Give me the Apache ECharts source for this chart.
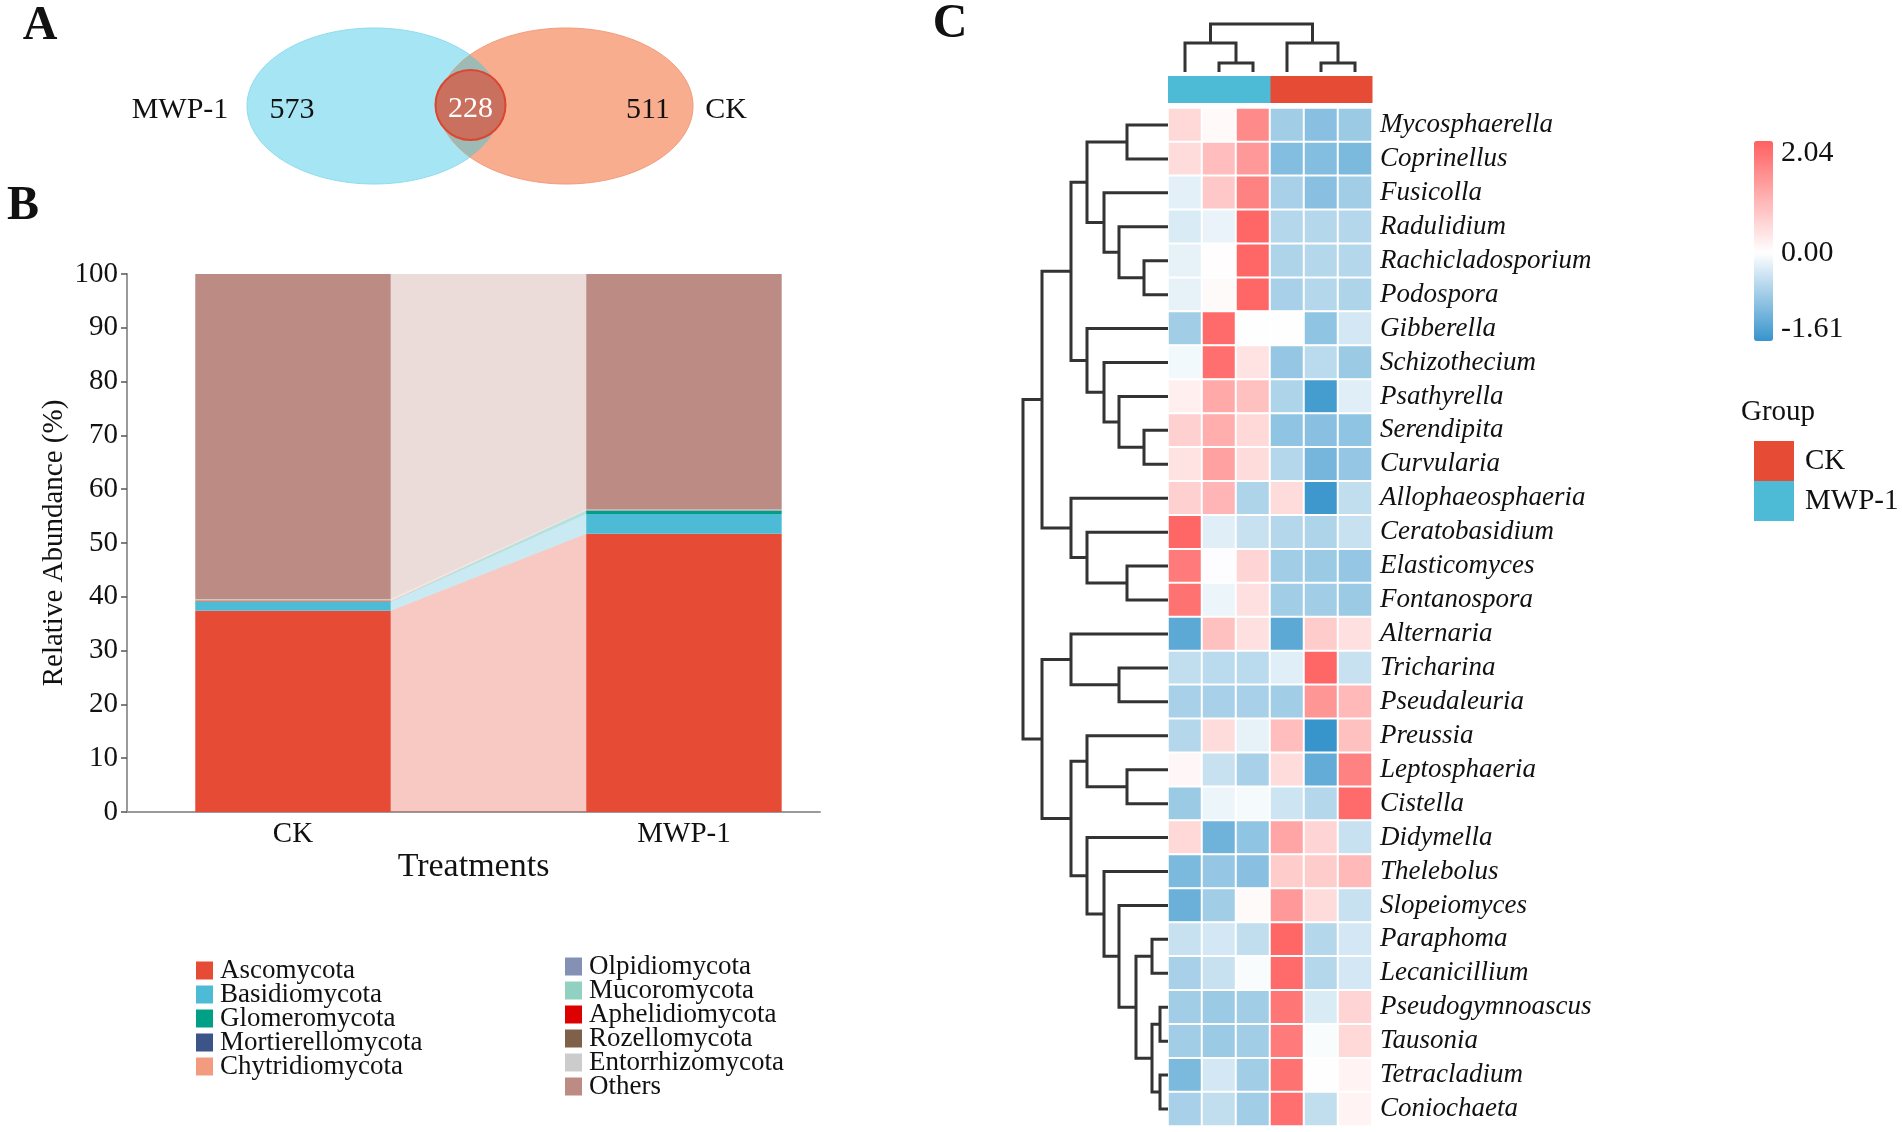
<!DOCTYPE html>
<html><head><meta charset="utf-8">
<script src="https://cdn.jsdelivr.net/npm/echarts@6/dist/echarts.min.js"></script>
<style>html,body{margin:0;padding:0;background:#fff;}#c{width:1902px;height:1132px;}</style>
</head><body><div id="c"></div>
<script>
// ---------- Panel A : Venn ----------
const vennSets = ['MWP-1', 'CK'];
const vennCounts = [573, 228, 511]; // MWP-1 only, shared, CK only

// ---------- Panel B : phylum composition ----------
const treatments = ['CK', 'MWP-1'];
const phyla = ['Ascomycota','Basidiomycota','Glomeromycota','Mortierellomycota','Chytridiomycota',
               'Olpidiomycota','Mucoromycota','Aphelidiomycota','Rozellomycota','Entorrhizomycota','Others'];
const abundCK   = [37.4, 1.65, 0.05, 0.05, 0.35, 0.02, 0.05, 0.01, 0.01, 0.01, 60.40];
const abundMWP1 = [51.7, 3.70, 0.60, 0.05, 0.05, 0.02, 0.10, 0.01, 0.01, 0.01, 43.75];
const phylumColors = ['#E64B35','#4DBBD5','#00A087','#3C5488','#F39B7F',
                      '#8491B4','#91D1C2','#DC0000','#7E6148','#CCCCCC','#BC8B84'];

// ---------- Panel C : heatmap ----------
const samples = ['MWP-1_1','MWP-1_2','MWP-1_3','CK_1','CK_2','CK_3'];
const sampleGroups = ['MWP-1','MWP-1','MWP-1','CK','CK','CK'];
const groupNames = ['CK','MWP-1'];
const groupColors = ['#E64B35','#4DBBD5'];
const genera = ['Mycosphaerella','Coprinellus','Fusicolla','Radulidium','Rachicladosporium','Podospora',
  'Gibberella','Schizothecium','Psathyrella','Serendipita','Curvularia','Allophaeosphaeria',
  'Ceratobasidium','Elasticomyces','Fontanospora','Alternaria','Tricharina','Pseudaleuria',
  'Preussia','Leptosphaeria','Cistella','Didymella','Thelebolus','Slopeiomyces','Paraphoma',
  'Lecanicillium','Pseudogymnoascus','Tausonia','Tetracladium','Coniochaeta'];
const zScores = [
 [ 0.50, 0.08, 1.50,-0.75,-0.95,-0.80],
 [ 0.45, 0.85, 1.30,-1.00,-1.00,-1.05],
 [-0.22, 0.70, 1.60,-0.70,-0.95,-0.75],
 [-0.30,-0.18, 1.95,-0.60,-0.60,-0.60],
 [-0.20, 0.02, 1.95,-0.65,-0.60,-0.60],
 [-0.20, 0.07, 1.95,-0.70,-0.60,-0.65],
 [-0.75, 1.90, 0.00, 0.00,-0.90,-0.35],
 [-0.10, 1.85, 0.35,-0.85,-0.55,-0.80],
 [ 0.20, 1.10, 0.80,-0.65,-1.50,-0.25],
 [ 0.60, 1.05, 0.50,-0.90,-0.95,-0.90],
 [ 0.35, 1.20, 0.45,-0.60,-1.10,-0.85],
 [ 0.60, 0.95,-0.65, 0.45,-1.55,-0.50],
 [ 1.95,-0.25,-0.45,-0.60,-0.65,-0.45],
 [ 1.70,-0.02, 0.55,-0.75,-0.80,-0.85],
 [ 1.80,-0.15, 0.40,-0.75,-0.75,-0.80],
 [-1.30, 0.80, 0.40,-1.30, 0.65, 0.40],
 [-0.50,-0.55,-0.55,-0.25, 1.95,-0.45],
 [-0.70,-0.70,-0.70,-0.75, 1.35, 0.90],
 [-0.60, 0.45,-0.20, 0.85,-1.60, 0.80],
 [ 0.10,-0.45,-0.70, 0.45,-1.25, 1.60],
 [-0.80,-0.15,-0.08,-0.40,-0.60, 1.90],
 [ 0.50,-1.15,-0.90, 1.15, 0.55,-0.45],
 [-1.05,-0.85,-0.95, 0.65, 0.65, 0.90],
 [-1.20,-0.75, 0.07, 1.30, 0.45,-0.45],
 [-0.45,-0.35,-0.50, 1.95,-0.60,-0.35],
 [-0.70,-0.45,-0.05, 1.90,-0.60,-0.35],
 [-0.75,-0.80,-0.75, 1.75,-0.30, 0.55],
 [-0.75,-0.80,-0.75, 1.70,-0.05, 0.50],
 [-1.05,-0.35,-0.75, 1.80, 0.00, 0.15],
 [-0.70,-0.50,-0.75, 1.85,-0.50, 0.15]
];
const zMin = -1.61, zMax = 2.04;
const colorbarTicks = [2.04, 0.00, -1.61];
// hierarchical clustering merges: [childA, childB, height]; 'mN' = N-th merge
const rowMerges = [
 [0,1,41],[4,5,24],[3,'m1',49],[2,'m2',64],['m0','m3',81],
 [9,10,24],[8,'m5',49],[7,'m6',64],[6,'m7',81],['m4','m8',97],
 [13,14,41],[12,'m10',81],[11,'m11',97],['m9','m12',126],
 [16,17,49],[15,'m14',97],[19,20,41],[18,'m16',81],
 [26,27,8],[28,29,8],['m18','m19',16],[24,25,16],['m21','m20',32],
 [23,'m22',49],[22,'m23',64],[21,'m24',81],['m17','m25',97],
 ['m15','m26',126],['m13','m27',145]
];
const colMerges = [[1,2,9],[0,'m0',29],[4,5,9],[3,'m2',29],['m1','m3',48]];

// ---------- helpers ----------
const FONT = 'Liberation Serif';
function dendroSegments(merges) {
  const nodes = [];
  const get = c => (typeof c === 'string') ? nodes[+c.slice(1)] : {pos: c, h: 0};
  return merges.map(m => {
    const a = get(m[0]), b = get(m[1]);
    nodes.push({pos: (a.pos + b.pos) / 2, h: m[2]});
    return [a.h, a.pos, m[2], b.pos, b.h];
  });
}
const RED = [255, 96, 96], BLUE = [55, 148, 204];
function zColor(v) {
  const t = v >= 0 ? v / zMax : v / zMin, c = v >= 0 ? RED : BLUE;
  const ch = i => Math.round(255 + (c[i] - 255) * t);
  return 'rgb(' + ch(0) + ',' + ch(1) + ',' + ch(2) + ')';
}
const vmColors = [];
for (let i = 0; i <= 73; i++) vmColors.push(zColor(zMin + (zMax - zMin) * i / 73));

// stacked positions for panel B
function cumul(arr) { const c = [0]; arr.forEach((v, i) => c.push(c[i] + v)); return c; }
const cumCK = cumul(abundCK), cumM = cumul(abundMWP1);
const HALF = 0.25;
const phylumSeries = phyla.map((name, k) => {
  const data = [[0, cumCK[k], cumCK[k + 1]], [1, cumM[k], cumM[k + 1]]];
  const color = phylumColors[k];
  return {
    type: 'custom', name, xAxisIndex: 0, yAxisIndex: 0, data,
    itemStyle: {color}, silent: true,
    renderItem(params, api) {
      const i = params.dataIndex, x = api.value(0), y0 = api.value(1), y1 = api.value(2);
      const a = api.coord([x - HALF, y1]), b = api.coord([x + HALF, y0]);
      const ch = [{type: 'rect', shape: {x: a[0], y: a[1], width: b[0] - a[0], height: b[1] - a[1]}, style: {fill: color}}];
      if (i === 0) {
        const n = data[1];
        const pts = [api.coord([x + HALF, y1]), api.coord([n[0] - HALF, n[2]]), api.coord([n[0] - HALF, n[1]]), api.coord([x + HALF, y0])];
        ch.unshift({type: 'polygon', shape: {points: pts}, style: {fill: color, opacity: 0.3}});
      }
      return {type: 'group', children: ch};
    }
  };
});

const heatData = [];
zScores.forEach((row, r) => row.forEach((v, c) => heatData.push([c, r, v])));

const groupSeries = groupNames.map((g, gi) => ({
  type: 'custom', name: g, xAxisIndex: 2, yAxisIndex: 2, silent: true,
  itemStyle: {color: groupColors[gi]},
  data: sampleGroups.map((sg, i) => sg === g ? [i, 1] : null).filter(d => d),
  renderItem(params, api) {
    const i = api.value(0);
    const a = api.coord([i - 0.5, 1]), b = api.coord([i + 0.5, 0]);
    return {type: 'rect', shape: {x: a[0], y: a[1], width: b[0] - a[0] + 0.5, height: b[1] - a[1]}, style: {fill: groupColors[gi]}};
  }
}));

const dendStyle = {stroke: '#333', lineWidth: 3, fill: null};
const colDendSeries = {
  type: 'custom', xAxisIndex: 3, yAxisIndex: 3, silent: true, data: dendroSegments(colMerges),
  renderItem(params, api) {
    const hA = api.value(0), pA = api.value(1), h = api.value(2), pB = api.value(3), hB = api.value(4);
    return {type: 'polyline', shape: {points: [api.coord([pA, hA]), api.coord([pA, h]), api.coord([pB, h]), api.coord([pB, hB])]}, style: dendStyle};
  }
};
const rowDendSeries = {
  type: 'custom', xAxisIndex: 4, yAxisIndex: 4, silent: true, data: dendroSegments(rowMerges),
  renderItem(params, api) {
    const hA = api.value(0), pA = api.value(1), h = api.value(2), pB = api.value(3), hB = api.value(4);
    return {type: 'polyline', shape: {points: [api.coord([hA, pA]), api.coord([h, pA]), api.coord([h, pB]), api.coord([hB, pB])]}, style: dendStyle};
  }
};

// ---------- Venn geometry ----------
const VL = {cx: 374, cy: 106, rx: 127, ry: 78}, VR = {cx: 566, cy: 106, rx: 127, ry: 78};
const lens = (() => {
  const xm = (VL.cx + VR.cx) / 2, t0 = Math.acos((xm - VL.cx) / VL.rx), pts = [];
  for (let i = 0; i <= 40; i++) { const t = -t0 + 2 * t0 * i / 40; pts.push([VL.cx + VL.rx * Math.cos(t), VL.cy + VL.ry * Math.sin(t)]); }
  for (let i = 0; i <= 40; i++) { const s = Math.PI - t0 + 2 * t0 * i / 40; pts.push([VR.cx + VR.rx * Math.cos(s), VR.cy + VR.ry * Math.sin(s)]); }
  return pts;
})();

function txt(text, x, y, size, opt) {
  opt = opt || {};
  return {type: 'text', z: 100, style: {text, x, y, font: (opt.weight || 'normal') + ' ' + size + 'px ' + FONT,
    fill: opt.fill || '#111',
    align: opt.align || 'center', verticalAlign: opt.va || 'middle', textAlign: opt.align || 'center', textVerticalAlign: opt.va || 'middle'}};
}

// colorbar geometry
const CB = {left: 1754, top: 141, w: 19, h: 200};
const cbLabels = colorbarTicks.map(v => {
  const y = CB.top + (zMax - v) / (zMax - zMin) * CB.h;
  const va = v === zMax ? 'top' : (v === zMin ? 'bottom' : 'middle');
  return txt(v.toFixed(2), CB.left + CB.w + 8, y + (va === 'top' ? -3 : va === 'bottom' ? 3 : 0), 30, {align: 'left', va});
});

const chart = echarts.init(document.getElementById('c'), null, {renderer: 'canvas'});
const hiddenVal = (min, max, gi, inverse) => ({type: 'value', gridIndex: gi, min, max, inverse: !!inverse, show: false});
const T = (size, extra) => Object.assign({fontFamily: FONT, fontSize: size, color: '#111'}, extra || {});

chart.setOption({
  animation: false,
  backgroundColor: '#fff',
  textStyle: {fontFamily: FONT},
  grid: [
    {left: 127, top: 274, width: 693, height: 538, containLabel: false, outerBoundsMode: 'none'},
    {left: 1168, top: 108, width: 204, height: 1018, containLabel: false, outerBoundsMode: 'none'},
    {left: 1168, top: 76, width: 204, height: 27, containLabel: false, outerBoundsMode: 'none'},
    {left: 1168, top: 24, width: 204, height: 48, containLabel: false, outerBoundsMode: 'none'},
    {left: 1023, top: 108, width: 145, height: 1018, containLabel: false, outerBoundsMode: 'none'}
  ],
  xAxis: [
    {type: 'value', gridIndex: 0, min: -0.4246, max: 1.348,
     axisLine: {show: true, onZero: false, lineStyle: {color: '#9a9a9a', width: 2}}, axisTick: {show: false},
     splitLine: {show: false}, minorTick: {show: false}, minorSplitLine: {show: false},
     axisLabel: Object.assign(T(29), {customValues: [0, 1], formatter: v => treatments[Math.round(v)], margin: 8}),
     name: 'Treatments', nameLocation: 'middle', nameGap: 36, nameTextStyle: T(34)},
    {type: 'category', gridIndex: 1, data: samples, show: false},
    hiddenVal(-0.5, 5.5, 2),
    hiddenVal(-0.5, 5.5, 3),
    hiddenVal(0, 145, 4, true)
  ],
  yAxis: [
    {type: 'value', gridIndex: 0, min: 0, max: 100, interval: 10,
     axisLine: {show: true, onZero: false, lineStyle: {color: '#9a9a9a', width: 2}},
     axisTick: {show: true, length: 6, lineStyle: {color: '#555', width: 1.5}}, splitLine: {show: false},
     axisLabel: Object.assign(T(29), {margin: 9}),
     name: 'Relative Abundance (%)', nameLocation: 'middle', nameGap: 58, nameRotate: 90,
     nameTextStyle: T(29)},
    {type: 'category', gridIndex: 1, data: genera, inverse: true, position: 'right',
     axisLine: {show: false}, axisTick: {show: false},
     axisLabel: Object.assign(T(27), {fontStyle: 'italic', margin: 8, interval: 0})},
    hiddenVal(0, 1, 2),
    hiddenVal(0, 48, 3),
    hiddenVal(-0.5, 29.5, 4, true)
  ],
  visualMap: [{
    type: 'continuous', seriesIndex: phyla.length, min: zMin, max: zMax, calculable: false,
    orient: 'vertical', left: CB.left, top: CB.top, itemWidth: CB.w, itemHeight: CB.h, padding: 0,
    inRange: {color: vmColors}, hoverLink: false, textStyle: {fontSize: 0}
  }],
  legend: [
    {data: phyla.slice(0, 5), orient: 'vertical', left: 196, top: 957, itemWidth: 17, itemHeight: 18, itemGap: -3,
     icon: 'rect', selectedMode: false, padding: 0, height: 170,
     textStyle: T(27, {padding: [0, 0, 0, 2]})},
    {data: phyla.slice(5), orient: 'vertical', left: 565, top: 953, itemWidth: 17, itemHeight: 18, itemGap: -3,
     icon: 'rect', selectedMode: false, padding: 0, height: 175,
     textStyle: T(27, {padding: [0, 0, 0, 2]})},
    {data: groupNames, orient: 'vertical', left: 1754, top: 441, itemWidth: 40, itemHeight: 40, itemGap: 0,
     icon: 'rect', selectedMode: false, padding: 0,
     textStyle: T(29, {padding: [0, 0, 0, 6]})}
  ],
  series: [].concat(phylumSeries, [{
      type: 'heatmap', xAxisIndex: 1, yAxisIndex: 1, data: heatData, silent: true,
      itemStyle: {borderColor: '#fff', borderWidth: 2}, emphasis: {disabled: true}
    }], groupSeries, [colDendSeries, rowDendSeries]),
  graphic: [
    txt('A', 40, 27, 48, {weight: 'bold'}),
    txt('B', 23, 207, 48, {weight: 'bold'}),
    txt('C', 950, 25, 48, {weight: 'bold'}),
    {type: 'ellipse', shape: VL, style: {fill: '#A6E5F4', stroke: '#8FDCEF', lineWidth: 1}},
    {type: 'ellipse', shape: VR, style: {fill: '#F9AD8F', stroke: '#F29C7C', lineWidth: 1}},
    {type: 'polygon', shape: {points: lens}, style: {fill: '#9DBAB5'}},
    {type: 'circle', shape: {cx: 470.5, cy: 105, r: 35}, style: {fill: '#C9705F', stroke: '#DC4630', lineWidth: 2}},
    txt(vennSets[0], 180, 110, 30),
    txt(String(vennCounts[0]), 292, 110, 30),
    txt(String(vennCounts[1]), 470.5, 109, 30, {fill: '#fff'}),
    txt(String(vennCounts[2]), 648, 110, 30),
    txt(vennSets[1], 726, 110, 30),
    txt('Group', 1741, 412, 29, {align: 'left'})
  ].concat(cbLabels)
});
</script></body></html>
